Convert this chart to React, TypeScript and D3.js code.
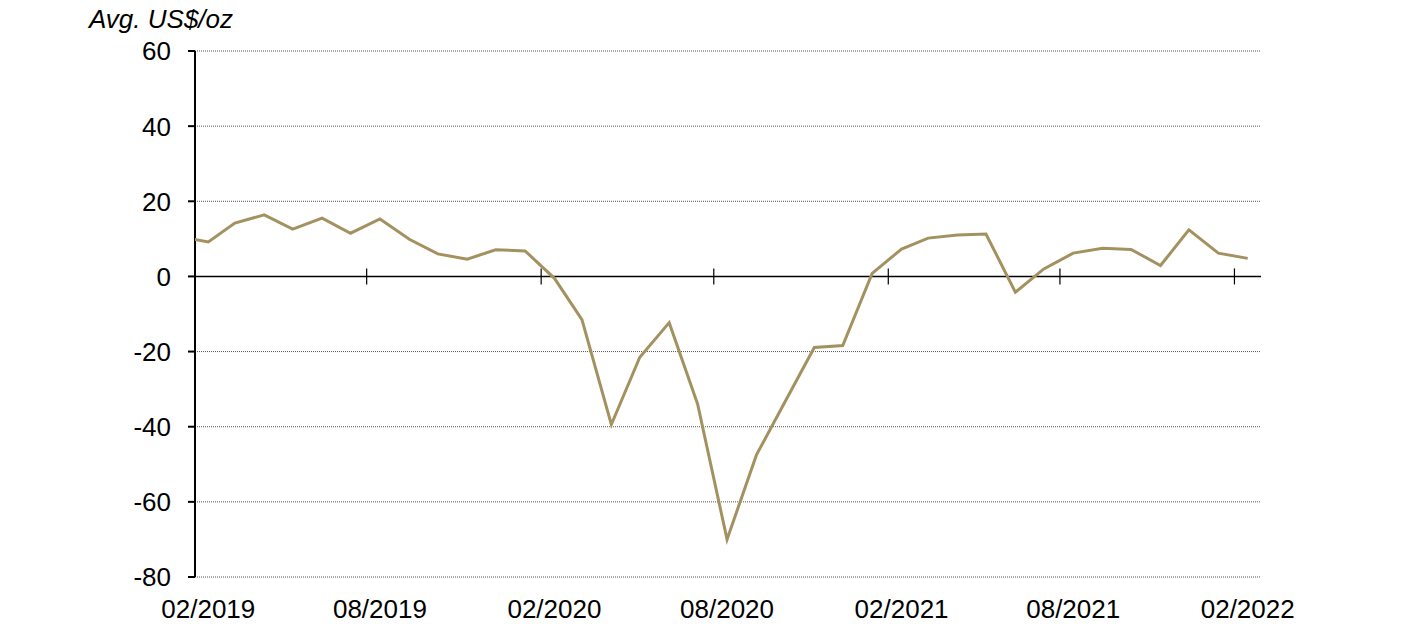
import React from 'react';
import * as d3 from 'd3';

// monthly averages, Jan 2019 .. Feb 2022 (Jan 2019 falls left of the axis and is clipped)
const months: string[] = [
  '2019-01', '2019-02', '2019-03', '2019-04', '2019-05', '2019-06', '2019-07', '2019-08',
  '2019-09', '2019-10', '2019-11', '2019-12', '2020-01', '2020-02', '2020-03', '2020-04',
  '2020-05', '2020-06', '2020-07', '2020-08', '2020-09', '2020-10', '2020-11', '2020-12',
  '2021-01', '2021-02', '2021-03', '2021-04', '2021-05', '2021-06', '2021-07', '2021-08',
  '2021-09', '2021-10', '2021-11', '2021-12', '2022-01', '2022-02',
];
const values: number[] = [
  10.6, 9.2, 14.2, 16.4, 12.6, 15.5, 11.5, 15.3,
  9.9, 6.0, 4.6, 7.1, 6.8, -0.5, -11.5, -39.4,
  -21.5, -12.3, -34, -70, -47.5, -33.4, -18.9, -18.4,
  0.8, 7.3, 10.2, 11.0, 11.3, -4.2, 2.0, 6.2,
  7.5, 7.2, 2.9, 12.4, 6.2, 4.8,
];
const yTicks: number[] = [60, 40, 20, 0, -20, -40, -60, -80];
const xTickLabels: string[] = ['02/2019', '08/2019', '02/2020', '08/2020', '02/2021', '08/2021', '02/2022'];
const unitLabel = 'Avg. US$/oz';

const W = 1423;
const H = 628;
const left = 195;
const right = 1261;
const top = 51;
const bottom = 577;
const lineColor = '#A39260';
const font = "'Liberation Sans', Arial, sans-serif";

const parseMonth = d3.timeParse('%Y-%m');
const midMonth = (m: string) => d3.timeDay.offset(parseMonth(m) as Date, 14);

const App: React.FC = () => {
  const x = d3.scaleTime()
    .domain([parseMonth('2019-02') as Date, parseMonth('2022-03') as Date])
    .range([left, right]);
  const y = d3.scaleLinear().domain([-80, 60]).range([bottom, top]);

  const points = months.map((m, i) => ({ date: midMonth(m), value: values[i] }));
  const line = d3.line<{ date: Date; value: number }>()
    .x(d => x(d.date))
    .y(d => y(d.value));

  const labelDates = xTickLabels.map(l => {
    const [mm, yyyy] = l.split('/');
    return `${yyyy}-${mm}`;
  });

  return (
    <svg width={W} height={H} style={{ position: 'absolute', left: 0, top: 0, background: '#fff' }}
      fontFamily={font}>
      <defs>
        <clipPath id="plot">
          <rect x={left} y={0} width={right - left} height={H} />
        </clipPath>
      </defs>

      {/* unit label */}
      <text x={89} y={28} fontSize={26} fontStyle="italic" fill="#000">{unitLabel}</text>

      {/* dotted gridlines */}
      {yTicks.filter(t => t !== 0).map(t => (
        <line key={t} x1={left} x2={right} y1={y(t)} y2={y(t)}
          stroke="#555" strokeWidth={1} strokeDasharray="1,1" />
      ))}

      {/* y axis */}
      <line x1={left} x2={left} y1={top} y2={bottom} stroke="#000" strokeWidth={2} />
      {yTicks.map(t => (
        <g key={t}>
          <line x1={left - 7} x2={left} y1={y(t)} y2={y(t)} stroke="#000" strokeWidth={2} />
          <text x={171} y={y(t)} dy="0.36em" textAnchor="end" fontSize={26} fill="#000">{t}</text>
        </g>
      ))}

      {/* zero line with month ticks */}
      <line x1={left} x2={right} y1={y(0)} y2={y(0)} stroke="#000" strokeWidth={1.5} />
      {labelDates.slice(1).map(m => {
        const tx = x(parseMonth(m) as Date);
        return <line key={m} x1={tx} x2={tx} y1={y(0) - 8} y2={y(0) + 8} stroke="#000" strokeWidth={1.2} />;
      })}

      {/* x labels */}
      {labelDates.map((m, i) => (
        <text key={m} x={x(midMonth(m))} y={618} textAnchor="middle" fontSize={26} fill="#000">
          {xTickLabels[i]}
        </text>
      ))}

      {/* series */}
      <path d={line(points) ?? ''} fill="none" stroke={lineColor} strokeWidth={3}
        strokeLinejoin="miter" clipPath="url(#plot)" />
    </svg>
  );
};

export default App;
